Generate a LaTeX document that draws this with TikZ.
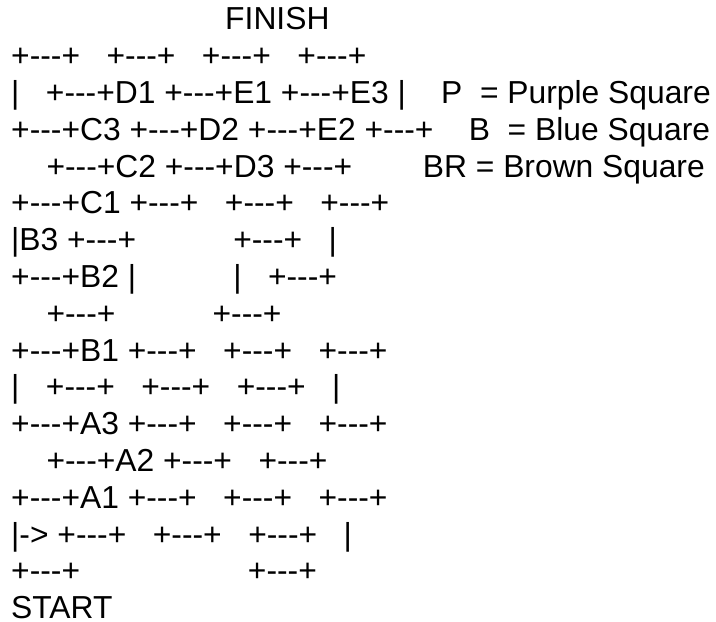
\documentclass[tikz,border=0pt]{standalone}
\usepackage{fontspec}
\setmainfont{Liberation Sans}[Ligatures=TeXOff]
\usetikzlibrary{positioning}
% n word spaces of the current font
\newcommand{\blanks}[1]{\hspace*{#1\fontdimen2\font}}
\tikzset{
  % one text line of the board
  boardrow/.style={anchor=base west,inner sep=0pt,
                   font=\fontsize{31.8}{36.8}\selectfont},
}

\begin{document}
\begin{tikzpicture}[x=1pt,y=-36.8pt]
  \fill[white] (0,0) rectangle (716,16.902);
  \path[use as bounding box] (0,0) rectangle (716,16.902);

  \node[boardrow] (finish) at (11,0.815)  {\blanks{24}\hspace*{2pt}FINISH};
  \node[boardrow] (r1)  at (11,1.815)  {+---+\blanks{3}+---+\blanks{3}+---+\blanks{3}+---+};
  \node[boardrow] (r2)  at (11,2.815)  {|\blanks{3}+---+D1 +---+E1 +---+E3 |\blanks{4}P\blanks{2}= Purple Square};
  \node[boardrow] (r3)  at (11,3.815)  {+---+C3 +---+D2 +---+E2 +---+\blanks{4}B\blanks{2}= Blue Square};
  \node[boardrow] (r4)  at (11,4.815)  {\blanks{4}+---+C2 +---+D3 +---+\blanks{8}BR = Brown Square};
  \node[boardrow] (r5)  at (11,5.815)  {+---+C1 +---+\blanks{3}+---+\blanks{3}+---+};
  \node[boardrow] (r6)  at (11,6.815)  {|B3 +---+\blanks{11}+---+\blanks{3}|};
  \node[boardrow] (r7)  at (11,7.815)  {+---+B2 |\blanks{11}|\blanks{3}+---+};
  \node[boardrow] (r8)  at (11,8.815)  {\blanks{4}+---+\blanks{11}+---+};
  \node[boardrow] (r9)  at (11,9.815)  {+---+B1 +---+\blanks{3}+---+\blanks{3}+---+};
  \node[boardrow] (r10) at (11,10.815) {|\blanks{3}+---+\blanks{3}+---+\blanks{3}+---+\blanks{3}|};
  \node[boardrow] (r11) at (11,11.815) {+---+A3 +---+\blanks{3}+---+\blanks{3}+---+};
  \node[boardrow] (r12) at (11,12.815) {\blanks{4}+---+A2 +---+\blanks{3}+---+};
  \node[boardrow] (r13) at (11,13.815) {+---+A1 +---+\blanks{3}+---+\blanks{3}+---+};
  \node[boardrow] (r14) at (11,14.815) {|-> +---+\blanks{3}+---+\blanks{3}+---+\blanks{3}|};
  \node[boardrow] (r15) at (11,15.815) {+---+\blanks{19}+---+};
  \node[boardrow] (start) at (11,16.815) {START};
\end{tikzpicture}
\end{document}
